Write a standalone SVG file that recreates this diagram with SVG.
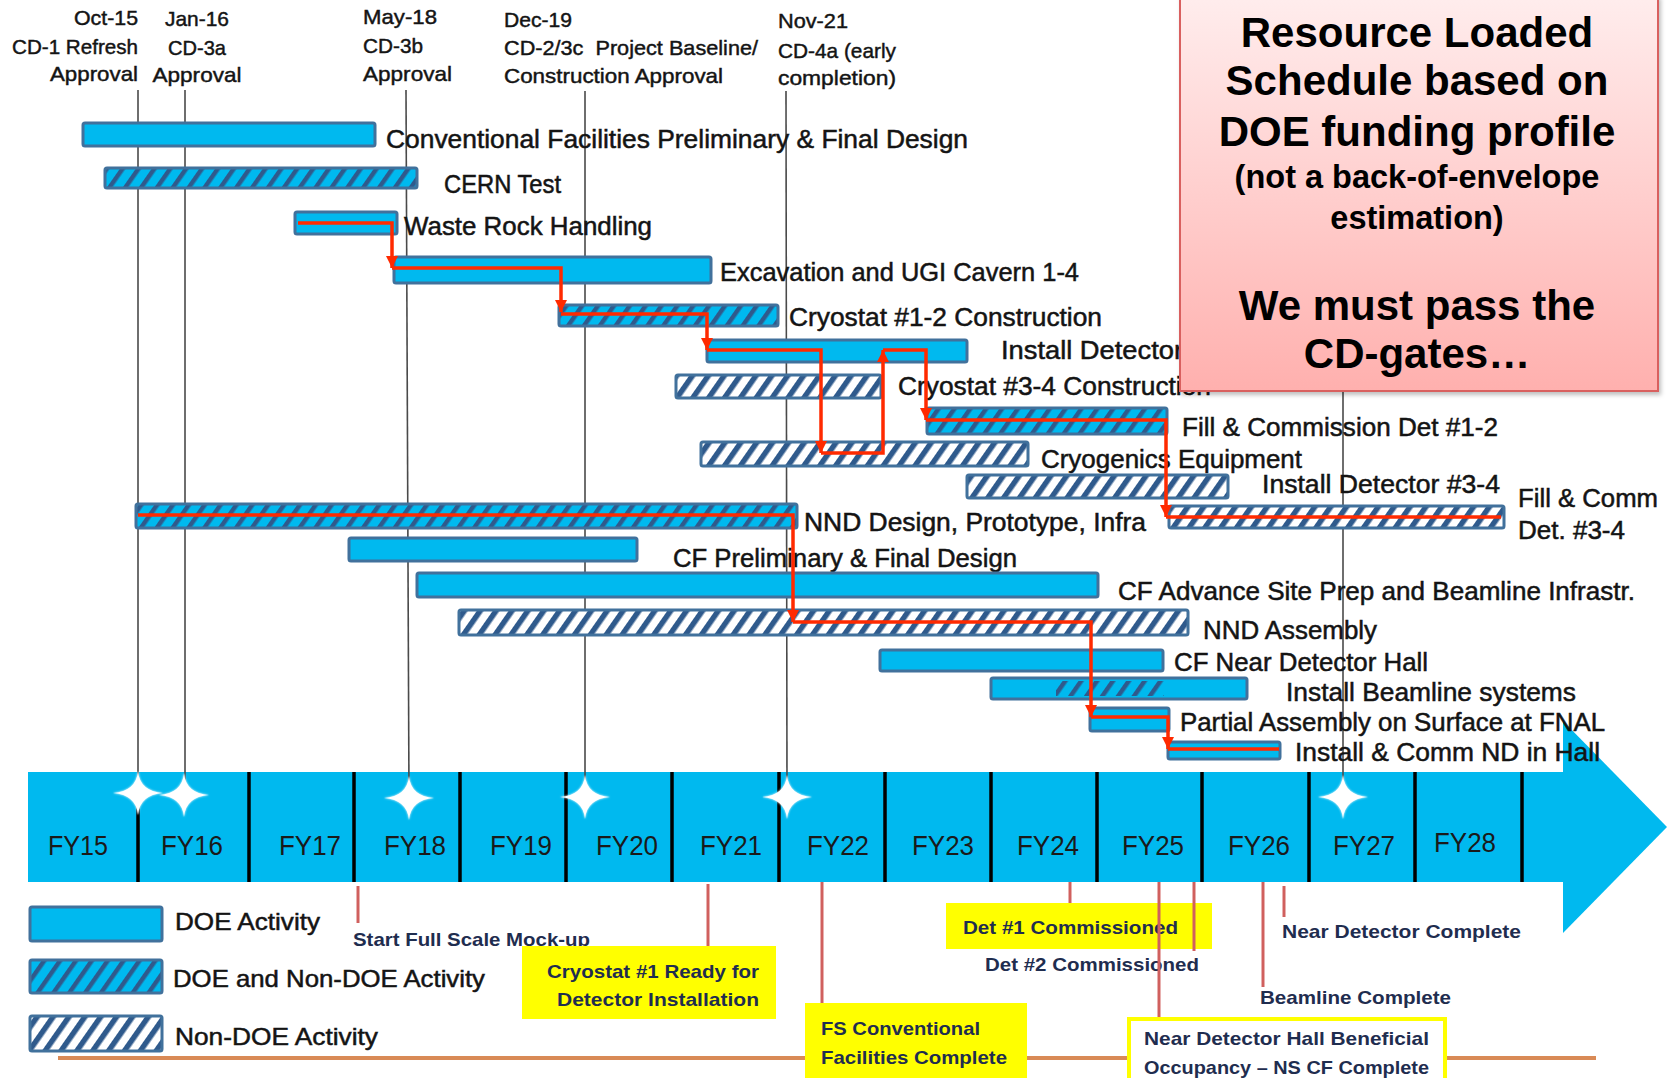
<svg xmlns="http://www.w3.org/2000/svg" width="1667" height="1078" viewBox="0 0 1667 1078">
<style>
text{font-family:"Liberation Sans",Arial,sans-serif}
.solid{fill:#00B9EF;stroke:#41719C;stroke-width:3}
.hb{fill:url(#hatchBlue);stroke:#41719C;stroke-width:3}
.hw{fill:url(#hatchWhite);stroke:#41719C;stroke-width:3}
.lbl{font-size:25px;fill:#141414;stroke:#141414;stroke-width:0.5}
.ms{font-size:21px;fill:#141414;stroke:#141414;stroke-width:0.45}
.leg{font-size:24px;fill:#141414;stroke:#141414;stroke-width:0.5}
.fy{font-size:27px;fill:#1a1a1a;text-anchor:middle}
.note{font-size:19px;font-weight:bold;fill:#1F2D4F}
.big{font-size:42px;font-weight:bold;fill:#000;text-anchor:middle}
.mid{font-size:32.5px;font-weight:bold;fill:#000;text-anchor:middle}
.crit{fill:none;stroke:#FF2A00;stroke-width:3.5;stroke-linejoin:miter}
.arr{marker-end:url(#ah)}
.mline{stroke:#4a4a4a;stroke-width:1.6}
.div{stroke:#000;stroke-width:3.5}
.rline{stroke:#D0605E;stroke-width:3}
.ybox{fill:#FFFF00}
.star{fill:#fff;filter:url(#glow)}
</style>
<defs>
<pattern id="hatchBlue" patternUnits="userSpaceOnUse" width="13" height="13" patternTransform="rotate(35)">
<rect width="13" height="13" fill="#00B9EF"/>
<rect width="4.5" height="13" fill="#2F5A8C"/>
</pattern>
<pattern id="hatchWhite" patternUnits="userSpaceOnUse" width="13" height="13" patternTransform="rotate(35)">
<rect width="13" height="13" fill="#ffffff"/>
<rect width="5.5" height="13" fill="#2F5A8C"/>
</pattern>
<marker id="ah" markerUnits="userSpaceOnUse" markerWidth="14" markerHeight="12" refX="12" refY="6" orient="auto">
<path d="M0,0 L12,6 L0,12 z" fill="#FF2A00"/>
</marker>
<linearGradient id="pink" x1="0" y1="0" x2="0" y2="1">
<stop offset="0" stop-color="#FFEDED"/>
<stop offset="1" stop-color="#FFB0AE"/>
</linearGradient>
<filter id="glow" x="-50%" y="-50%" width="200%" height="200%">
<feGaussianBlur in="SourceGraphic" stdDeviation="1.2" result="b"/>
<feMerge><feMergeNode in="b"/><feMergeNode in="SourceGraphic"/></feMerge>
</filter>
<filter id="shadow" x="-5%" y="-5%" width="110%" height="110%">
<feDropShadow dx="2" dy="3" stdDeviation="2" flood-color="#000" flood-opacity="0.25"/>
</filter>
<path id="starShape" d="M0,-22 Q1.8,-1.8 25,0 Q1.8,1.8 0,22 Q-1.8,1.8 -25,0 Q-1.8,-1.8 0,-22 Z"/>
</defs>
<rect width="1667" height="1078" fill="#ffffff"/>

<!-- timeline band -->
<g id="timeline">
<rect x="28" y="772" width="1536" height="110" fill="#00B9EF"/>
<polygon points="1563,721 1667,827 1563,933" fill="#00B9EF"/>
<line class="div" x1="138" y1="805" x2="138" y2="882"/>
<line class="div" x1="249" y1="772" x2="249" y2="882"/>
<line class="div" x1="354" y1="772" x2="354" y2="882"/>
<line class="div" x1="460" y1="772" x2="460" y2="882"/>
<line class="div" x1="566" y1="772" x2="566" y2="882"/>
<line class="div" x1="672" y1="772" x2="672" y2="882"/>
<line class="div" x1="779" y1="772" x2="779" y2="882"/>
<line class="div" x1="885" y1="772" x2="885" y2="882"/>
<line class="div" x1="991" y1="772" x2="991" y2="882"/>
<line class="div" x1="1097" y1="772" x2="1097" y2="882"/>
<line class="div" x1="1202" y1="772" x2="1202" y2="882"/>
<line class="div" x1="1309" y1="772" x2="1309" y2="882"/>
<line class="div" x1="1415" y1="772" x2="1415" y2="882"/>
<line class="div" x1="1522" y1="772" x2="1522" y2="882"/>
<text class="fy" x="78" y="855" textLength="60" lengthAdjust="spacingAndGlyphs">FY15</text>
<text class="fy" x="192" y="855" textLength="62" lengthAdjust="spacingAndGlyphs">FY16</text>
<text class="fy" x="310" y="855" textLength="62" lengthAdjust="spacingAndGlyphs">FY17</text>
<text class="fy" x="415" y="855" textLength="62" lengthAdjust="spacingAndGlyphs">FY18</text>
<text class="fy" x="521" y="855" textLength="62" lengthAdjust="spacingAndGlyphs">FY19</text>
<text class="fy" x="627" y="855" textLength="62" lengthAdjust="spacingAndGlyphs">FY20</text>
<text class="fy" x="731" y="855" textLength="62" lengthAdjust="spacingAndGlyphs">FY21</text>
<text class="fy" x="838" y="855" textLength="62" lengthAdjust="spacingAndGlyphs">FY22</text>
<text class="fy" x="943" y="855" textLength="62" lengthAdjust="spacingAndGlyphs">FY23</text>
<text class="fy" x="1048" y="855" textLength="62" lengthAdjust="spacingAndGlyphs">FY24</text>
<text class="fy" x="1153" y="855" textLength="62" lengthAdjust="spacingAndGlyphs">FY25</text>
<text class="fy" x="1259" y="855" textLength="62" lengthAdjust="spacingAndGlyphs">FY26</text>
<text class="fy" x="1364" y="855" textLength="62" lengthAdjust="spacingAndGlyphs">FY27</text>
<text class="fy" x="1465" y="852" textLength="62" lengthAdjust="spacingAndGlyphs">FY28</text>
</g>

<!-- bottom orange rule -->
<line x1="58" y1="1058" x2="1596" y2="1058" stroke="#D98A56" stroke-width="4"/>

<!-- milestone vertical lines -->
<g id="milestone-lines">
<line class="mline" x1="138" y1="90" x2="138" y2="797"/>
<line class="mline" x1="185" y1="90" x2="185" y2="795"/>
<line class="mline" x1="406" y1="90" x2="409" y2="798"/>
<line class="mline" x1="585" y1="91" x2="585" y2="797"/>
<line class="mline" x1="786" y1="91" x2="787" y2="797"/>
<line class="mline" x1="1343" y1="391" x2="1343" y2="797"/>
</g>

<!-- stars -->
<g id="stars">
<use href="#starShape" class="star" x="138" y="793"/>
<use href="#starShape" class="star" x="184" y="795"/>
<use href="#starShape" class="star" x="409" y="798"/>
<use href="#starShape" class="star" x="585" y="797"/>
<use href="#starShape" class="star" x="787" y="797"/>
<use href="#starShape" class="star" x="1343" y="797"/>
</g>

<!-- top milestone labels -->
<g id="ms-oct15">
<text class="ms" x="138" y="25" text-anchor="end" textLength="64" lengthAdjust="spacingAndGlyphs">Oct-15</text>
<text class="ms" x="138" y="54" text-anchor="end" textLength="126" lengthAdjust="spacingAndGlyphs">CD-1 Refresh</text>
<text class="ms" x="138" y="81" text-anchor="end" textLength="88" lengthAdjust="spacingAndGlyphs">Approval</text>
</g>
<g id="ms-jan16">
<text class="ms" x="197" y="26" text-anchor="middle" textLength="64" lengthAdjust="spacingAndGlyphs">Jan-16</text>
<text class="ms" x="197" y="55" text-anchor="middle" textLength="58" lengthAdjust="spacingAndGlyphs">CD-3a</text>
<text class="ms" x="197" y="82" text-anchor="middle" textLength="89" lengthAdjust="spacingAndGlyphs">Approval</text>
</g>
<g id="ms-may18">
<text class="ms" x="363" y="24" textLength="74" lengthAdjust="spacingAndGlyphs">May-18</text>
<text class="ms" x="363" y="53" textLength="60" lengthAdjust="spacingAndGlyphs">CD-3b</text>
<text class="ms" x="363" y="81" textLength="89" lengthAdjust="spacingAndGlyphs">Approval</text>
</g>
<g id="ms-dec19">
<text class="ms" x="504" y="27" textLength="68" lengthAdjust="spacingAndGlyphs">Dec-19</text>
<text class="ms" x="504" y="55" textLength="254" lengthAdjust="spacingAndGlyphs" xml:space="preserve">CD-2/3c  Project Baseline/</text>
<text class="ms" x="504" y="83" textLength="219" lengthAdjust="spacingAndGlyphs">Construction Approval</text>
</g>
<g id="ms-nov21">
<text class="ms" x="778" y="28" textLength="70" lengthAdjust="spacingAndGlyphs">Nov-21</text>
<text class="ms" x="778" y="58" textLength="118" lengthAdjust="spacingAndGlyphs">CD-4a (early</text>
<text class="ms" x="778" y="85" textLength="118" lengthAdjust="spacingAndGlyphs">completion)</text>
</g>

<!-- activity bars -->
<g id="task-cf-design"><rect class="solid" x="83" y="123" width="292" height="23" rx="2"/><text class="lbl" x="386" y="148" textLength="582" lengthAdjust="spacingAndGlyphs">Conventional Facilities Preliminary &amp; Final Design</text></g>
<g id="task-cern"><rect class="hb" x="105" y="168" width="312" height="20" rx="2"/><text class="lbl" x="444" y="193" textLength="117" lengthAdjust="spacingAndGlyphs">CERN Test</text></g>
<g id="task-waste"><rect class="solid" x="295" y="212" width="102" height="22" rx="2"/><text class="lbl" x="404" y="235" textLength="248" lengthAdjust="spacingAndGlyphs">Waste Rock Handling</text></g>
<g id="task-excavation"><rect class="solid" x="394" y="257" width="317" height="26" rx="2"/><text class="lbl" x="720" y="281" textLength="359" lengthAdjust="spacingAndGlyphs">Excavation and UGI Cavern 1-4</text></g>
<g id="task-cryo12"><rect class="hb" x="559" y="305" width="219" height="21" rx="2"/><text class="lbl" x="789" y="326" textLength="313" lengthAdjust="spacingAndGlyphs">Cryostat #1-2 Construction</text></g>
<g id="task-install12"><rect class="solid" x="707" y="340" width="260" height="22" rx="2"/><text class="lbl" x="1001" y="359" textLength="182" lengthAdjust="spacingAndGlyphs">Install Detector</text></g>
<g id="task-cryo34"><rect class="hw" x="676" y="375" width="205" height="23" rx="2"/><text class="lbl" x="898" y="395" textLength="313" lengthAdjust="spacingAndGlyphs">Cryostat #3-4 Construction</text></g>
<g id="task-fill12"><rect class="hb" x="927" y="408" width="240" height="26" rx="2"/><text class="lbl" x="1182" y="436" textLength="316" lengthAdjust="spacingAndGlyphs">Fill &amp; Commission Det #1-2</text></g>
<g id="task-cryogenics"><rect class="hw" x="701" y="442" width="327" height="24" rx="2"/><text class="lbl" x="1041" y="468" textLength="261" lengthAdjust="spacingAndGlyphs">Cryogenics Equipment</text></g>
<g id="task-install34"><rect class="hw" x="967" y="475" width="261" height="23" rx="2"/><text class="lbl" x="1262" y="493" textLength="238" lengthAdjust="spacingAndGlyphs">Install Detector #3-4</text></g>
<g id="task-nnd-design"><rect class="hb" x="136" y="504" width="661" height="24" rx="2"/><text class="lbl" x="804" y="531" textLength="342" lengthAdjust="spacingAndGlyphs">NND Design, Prototype, Infra</text></g>
<g id="task-fill34"><rect class="hw" x="1169" y="506" width="335" height="22" rx="2"/><text class="lbl" x="1518" y="507" textLength="140" lengthAdjust="spacingAndGlyphs">Fill &amp; Comm</text><text class="lbl" x="1518" y="539" textLength="107" lengthAdjust="spacingAndGlyphs">Det. #3-4</text></g>
<g id="task-cf-prelim"><rect class="solid" x="349" y="538" width="288" height="23" rx="2"/><text class="lbl" x="673" y="567" textLength="344" lengthAdjust="spacingAndGlyphs">CF Preliminary &amp; Final Design</text></g>
<g id="task-cf-advance"><rect class="solid" x="417" y="573" width="681" height="24" rx="2"/><text class="lbl" x="1118" y="600" textLength="517" lengthAdjust="spacingAndGlyphs">CF Advance Site Prep and Beamline Infrastr.</text></g>
<g id="task-nnd-assembly"><rect class="hw" x="459" y="610" width="729" height="25" rx="2"/><text class="lbl" x="1203" y="639" textLength="174" lengthAdjust="spacingAndGlyphs">NND Assembly</text></g>
<g id="task-cf-ndh"><rect class="solid" x="880" y="650" width="283" height="21" rx="2"/><text class="lbl" x="1174" y="671" textLength="254" lengthAdjust="spacingAndGlyphs">CF Near Detector Hall</text></g>
<g id="task-beamline"><rect class="solid" x="991" y="678" width="256" height="21" rx="2"/><rect x="1056" y="681" width="108" height="15" fill="url(#hatchBlue)"/><text class="lbl" x="1286" y="701" textLength="290" lengthAdjust="spacingAndGlyphs">Install Beamline systems</text></g>
<g id="task-partial"><rect class="solid" x="1090" y="708" width="79" height="23" rx="2"/><text class="lbl" x="1180" y="731" textLength="425" lengthAdjust="spacingAndGlyphs">Partial Assembly on Surface at FNAL</text></g>
<g id="task-install-nd"><rect class="solid" x="1168" y="742" width="112" height="17" rx="2"/><text class="lbl" x="1295" y="761" textLength="305" lengthAdjust="spacingAndGlyphs">Install &amp; Comm ND in Hall</text></g>

<!-- critical path connectors -->
<g id="connectors">
<path class="crit arr" d="M298,223 H392 V268"/>
<path class="crit arr" d="M392,268 H561 V312"/>
<path class="crit arr" d="M561,314 H707 V350"/>
<path class="crit arr" d="M707,350 H821 V453"/>
<path class="crit arr" d="M821,453 H883 V350"/>
<path class="crit arr" d="M883,350 H926 V420"/>
<path class="crit arr" d="M926,420 H1166 V517"/>
<path class="crit" d="M1166,517 H1501"/>
<path class="crit arr" d="M138,515 H793 V622"/>
<path class="crit arr" d="M793,622 H1091 V717"/>
<path class="crit arr" d="M1091,717 H1168 V749"/>
<path class="crit" d="M1168,749 H1279"/>
</g>

<!-- pink callout -->
<g id="callout">
<rect x="1180" y="-4" width="478" height="395" fill="url(#pink)" stroke="#D9605E" stroke-width="2" filter="url(#shadow)"/>
<text class="big" x="1417" y="47">Resource Loaded</text>
<text class="big" x="1417" y="95">Schedule based on</text>
<text class="big" x="1417" y="146">DOE funding profile</text>
<text class="mid" x="1417" y="188">(not a back-of-envelope</text>
<text class="mid" x="1417" y="229">estimation)</text>
<text class="big" x="1417" y="320">We must pass the</text>
<text class="big" x="1417" y="368">CD-gates…</text>
</g>

<!-- legend -->
<g id="legend-doe"><rect class="solid" x="30" y="907" width="132" height="34" rx="2"/><text class="leg" x="175" y="930" textLength="145" lengthAdjust="spacingAndGlyphs">DOE Activity</text></g>
<g id="legend-mixed"><rect class="hb" x="30" y="960" width="132" height="33" rx="2"/><text class="leg" x="173" y="987" textLength="312" lengthAdjust="spacingAndGlyphs">DOE and Non-DOE Activity</text></g>
<g id="legend-nondoe"><rect class="hw" x="30" y="1016" width="132" height="35" rx="2"/><text class="leg" x="175" y="1045" textLength="203" lengthAdjust="spacingAndGlyphs">Non-DOE Activity</text></g>

<!-- bottom milestones -->
<g id="note-mockup"><line class="rline" x1="358" y1="886" x2="358" y2="923"/><text class="note" x="353" y="946" textLength="237" lengthAdjust="spacingAndGlyphs">Start Full Scale Mock-up</text></g>
<g id="note-cryo1"><line class="rline" x1="708" y1="884" x2="708" y2="946"/><rect class="ybox" x="522" y="946" width="254" height="73"/><text class="note" x="759" y="978" text-anchor="end" textLength="212" lengthAdjust="spacingAndGlyphs">Cryostat #1 Ready for</text><text class="note" x="759" y="1006" text-anchor="end" textLength="202" lengthAdjust="spacingAndGlyphs">Detector Installation</text></g>
<g id="note-fs"><line class="rline" x1="822" y1="882" x2="822" y2="1003"/><rect class="ybox" x="805" y="1003" width="222" height="77"/><text class="note" x="821" y="1035" textLength="159" lengthAdjust="spacingAndGlyphs">FS Conventional</text><text class="note" x="821" y="1064" textLength="186" lengthAdjust="spacingAndGlyphs">Facilities Complete</text></g>
<g id="note-det1"><line class="rline" x1="1070" y1="882" x2="1070" y2="903"/><rect class="ybox" x="946" y="903" width="266" height="46"/><text class="note" x="963" y="934" textLength="215" lengthAdjust="spacingAndGlyphs">Det #1 Commissioned</text></g>
<g id="note-det2"><line class="rline" x1="1194" y1="882" x2="1194" y2="951"/><text class="note" x="985" y="971" textLength="214" lengthAdjust="spacingAndGlyphs">Det #2 Commissioned</text></g>
<g id="note-ndh"><line class="rline" x1="1159" y1="882" x2="1159" y2="1017"/><rect x="1129" y="1019" width="316" height="64" fill="#ffffff" stroke="#FFFF00" stroke-width="4"/><text class="note" x="1144" y="1045" textLength="285" lengthAdjust="spacingAndGlyphs">Near Detector Hall Beneficial</text><text class="note" x="1144" y="1074" textLength="285" lengthAdjust="spacingAndGlyphs">Occupancy – NS CF Complete</text></g>
<g id="note-beamline"><line class="rline" x1="1263" y1="882" x2="1263" y2="987"/><text class="note" x="1260" y="1004" textLength="191" lengthAdjust="spacingAndGlyphs">Beamline Complete</text></g>
<g id="note-nd"><line class="rline" x1="1284" y1="886" x2="1284" y2="917"/><text class="note" x="1282" y="938" textLength="239" lengthAdjust="spacingAndGlyphs">Near Detector Complete</text></g>
</svg>
